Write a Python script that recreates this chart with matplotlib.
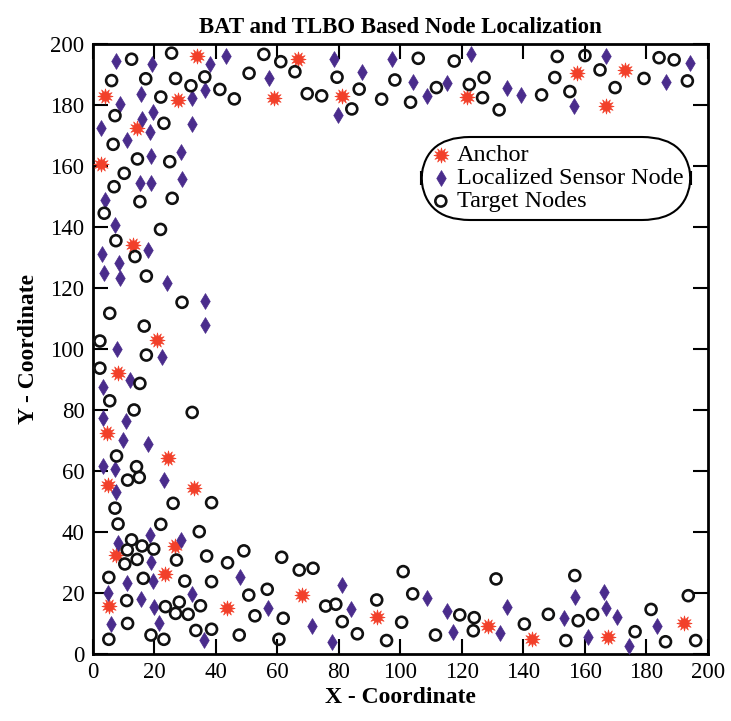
import matplotlib
matplotlib.use("Agg")
import matplotlib.pyplot as plt

plt.rcParams['font.family'] = ['Liberation Serif', 'DejaVu Serif']

# Anchor nodes (red stars)
anchor_x = [34, 3.9, 27.7, 14.5, 2.8, 66.8, 59, 81, 121.7, 157.3, 173, 167,
            13.1, 21, 8.2, 4.5, 24.3, 5, 32.9, 26.7, 7.4, 23.4, 5.2, 43.5,
            67.9, 92.5, 128.4, 142.7, 167.6, 192.2]
anchor_y = [196, 183, 181.5, 172.3, 160.6, 195.1, 182.4, 183, 182.5, 190.4, 191.5, 179.8,
            134.1, 103, 92, 72.3, 64.4, 55.4, 54.5, 35.4, 32.5, 26.1, 15.7, 15,
            19.3, 12, 9, 4.8, 5.7, 10]

# Localized sensor nodes (purple diamonds)
sensor_x = [7.4, 19.3, 38, 43.2, 36.4, 15.8, 32.3, 8.8, 19.6, 16, 18.5, 32.4, 2.6,
            11.2, 18.9, 28.8, 78.5, 97.3, 123.1, 57.2, 87.4, 104.2, 115.2, 108.8,
            79.6, 134.7, 139.1, 156.4, 166.8, 194.1, 186.2,
            15.3, 18.9, 29, 4.1, 7.2, 3, 18, 8.6, 3.7, 8.8, 24.2, 36.4, 36.6, 7.7,
            22.5, 12, 3.4, 3.4, 10.7, 9.7, 18, 3.4, 7.2, 23.1, 7.4,
            18.5, 8.2, 28.8, 18.8, 11, 19.6, 47.8, 5, 15.8, 19.8, 32.3, 57, 5.9,
            21.5, 36.2, 71.3, 80.9, 83.8, 77.8, 108.8, 115.3, 117.2, 132.4, 134.7,
            153.2, 156.7, 161.1, 166.2, 167, 170.3, 174.4, 183.5]
sensor_y = [194.4, 193.5, 193.3, 196, 184.9, 183.5, 182.2, 180.3, 177.6, 175.4, 171.2, 173.6, 172.6,
            168.6, 163.4, 164.5, 195.1, 195.1, 196.6, 188.7, 190.7, 187.6, 187.1, 183,
            176.7, 185.7, 183.3, 179.7, 195.9, 193.7, 187.4,
            154.5, 154.3, 155.6, 148.9, 140.7, 131.3, 132.5, 128.3, 124.8, 123.2, 121.5, 115.7, 107.9, 100,
            97.3, 89.8, 87.4, 77.3, 76.5, 70.2, 69, 61.7, 60.7, 57, 53,
            39, 36.5, 37.4, 30.3, 23.4, 23.9, 25.3, 20.1, 18, 15.5, 19.6, 15, 9.8,
            10, 4.6, 9.2, 22.6, 14.8, 4, 18.5, 14.2, 7.1, 6.8, 15.5,
            11.9, 18.8, 5.7, 20.2, 15, 12, 2.7, 9.3]

# Target nodes (open circles)
target_x = [12.6, 25.6, 6.1, 17.2, 26.9, 31.9, 36.4, 41.3, 46, 22.1, 7.2, 23.1, 6.6,
            14.5, 25, 55.6, 61.1, 105.8, 117.5, 50.8, 65.7, 79.4, 98.2, 111.7, 122.4,
            69.7, 74.4, 86.6, 93.9, 103.3, 84.2, 127.2, 126.7, 132.1, 145.9, 151,
            150.2, 155.1, 160, 164.9, 169.8, 179.2, 184.1, 189, 193.3,
            10.2, 6.9, 15.3, 25.8, 3.7, 22, 7.5, 13.7, 17.4, 29, 5.5, 16.7, 2.3,
            17.4, 2.3, 15.3, 5.5, 13.4, 32.3, 7.7, 14.2, 11.3, 15.1,
            7.2, 26.1, 38.6, 8.2, 22.1, 34.6, 12.6, 16, 19.8, 11.2, 14.4, 10.4,
            27.2, 37, 43.8, 49.1, 61.4, 5.2, 16.4, 29.9, 38.6, 11, 23.6, 28.1,
            26.9, 31, 35, 50.7, 56.7, 52.7, 61.9, 11.3, 5.2, 18.9, 23.1, 33.5,
            38.6, 47.6, 60.5, 67.1, 71.6, 75.7, 79, 81.1, 86, 92.3, 95.5, 100.9,
            104, 100.4, 111.4, 119.3, 124, 123.7, 131.1, 140.3, 148.1, 153.8,
            156.7, 157.8, 162.5, 176.3, 181.5, 186.2, 193.6, 196]
target_y = [195, 197, 188, 188.6, 188.7, 186.3, 189.2, 185.1, 182, 182.6, 176.5, 174, 167.1,
            162.3, 161.4, 196.6, 194.2, 195.3, 194.4, 190.4, 190.9, 189.1, 188.2, 185.7, 186.7,
            183.7, 183, 185.2, 181.9, 180.9, 178.7, 189, 182.4, 178.4, 183.3, 195.9,
            189, 184.4, 196.2, 191.5, 185.7, 188.7, 195.5, 194.8, 187.9,
            157.6, 153.2, 148.3, 149.4, 144.5, 139.2, 135.5, 130.3, 123.9, 115.3, 111.7, 107.5, 102.6,
            98, 93.7, 88.7, 83, 80, 79.2, 64.9, 61.4, 57, 57.9,
            47.8, 49.4, 49.6, 42.6, 42.5, 40.1, 37.4, 35.4, 34.4, 34.1, 31, 29.5,
            30.8, 32.1, 29.9, 33.8, 31.7, 25.1, 24.8, 23.9, 23.7, 17.5, 15.5, 17,
            13.3, 13, 15.8, 19.3, 21.2, 12.5, 11.7, 10, 4.8, 6.2, 4.8, 7.7,
            8.1, 6.2, 4.8, 27.5, 28.1, 15.7, 16.3, 10.6, 6.6, 17.7, 4.4, 27,
            19.7, 10.4, 6.2, 12.8, 11.9, 7.6, 24.6, 9.8, 13, 4.4,
            25.7, 10.9, 13, 7.3, 14.6, 4, 19.1, 4.4]

fig = plt.figure(figsize=(7.31, 7.21), dpi=100)
ax = fig.add_axes([0.127, 0.093, 0.8415, 0.846])

ax.scatter(anchor_x, anchor_y, marker=(12, 1, 0), s=120, color='#f2402a',
           edgecolors='#f2402a', linewidths=0.5, label='Anchor', zorder=3)
ax.scatter(sensor_x, sensor_y, marker='d', s=65, color='#4a2c8c',
           edgecolors='#4a2c8c', linewidths=0.5, label='Localized Sensor Node', zorder=3)
ax.scatter(target_x, target_y, marker='o', s=62, facecolors='none',
           edgecolors='#111111', linewidths=1.9, label='Target Nodes', zorder=3)

ax.set_xlim(0, 200)
ax.set_ylim(0, 200)
ax.set_xticks(range(0, 201, 20))
ax.set_yticks(range(0, 201, 20))
ax.tick_params(direction='in', length=11, width=1.5, top=True, right=True,
               labelsize=16.5, pad=6)
for sp in ax.spines.values():
    sp.set_linewidth(2)

ax.set_title("BAT and TLBO Based Node Localization", fontsize=16.5, fontweight='bold', pad=8)
ax.set_xlabel("X - Coordinate", fontsize=17, fontweight='bold', labelpad=3)
ax.set_ylabel("Y - Coordinate", fontsize=17, fontweight='bold', labelpad=8)

leg = ax.legend(loc='upper left', bbox_to_anchor=(0.542, 0.84), fontsize=17.5,
                frameon=True, fancybox=True, handletextpad=0.15, borderpad=0.1,
                labelspacing=0.05, handlelength=1.0, borderaxespad=0)
frame = leg.get_frame()
frame.set_boxstyle('round,pad=0.2,rounding_size=2.0')
frame.set_edgecolor('black')
frame.set_linewidth(1.5)
frame.set_alpha(1)

plt.savefig("out.png", dpi=100)
